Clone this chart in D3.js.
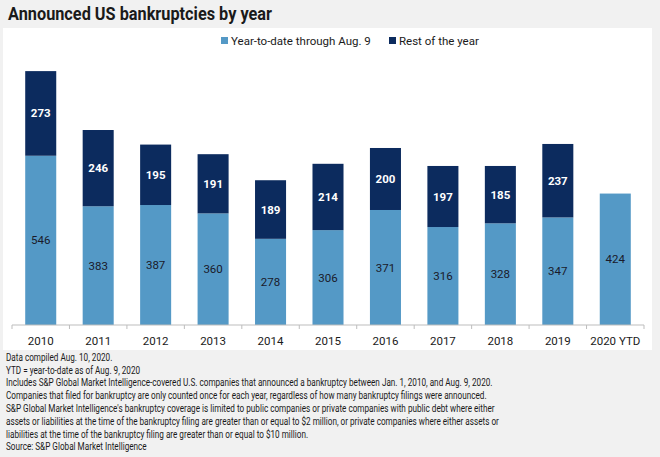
<!DOCTYPE html>
<html><head><meta charset="utf-8">
<script src="https://cdn.jsdelivr.net/npm/d3@7"></script>
<style>
body{margin:0;background:#f1f1f1;}
svg{display:block;}
</style></head>
<body>
<svg id="chart" width="660" height="457"></svg>
<script>
const categories = ["2010","2011","2012","2013","2014","2015","2016","2017","2018","2019","2020 YTD"];
const ytdValues  = [546,383,387,360,278,306,371,316,328,347,424];
const restValues = [273,246,195,191,189,214,200,197,185,237,null];
const seriesNames = ["Year-to-date through Aug. 9","Rest of the year"];
const footnotes = [
 "Data compiled Aug. 10, 2020.",
 "YTD = year-to-date as of Aug. 9, 2020",
 "Includes S&P Global Market Intelligence-covered U.S. companies that announced a bankruptcy between Jan. 1, 2010, and Aug. 9, 2020.",
 "Companies that filed for bankruptcy are only counted once for each year, regardless of how many bankruptcy filings were announced.",
 "S&P Global Market Intelligence's bankruptcy coverage is limited to public companies or private companies with public debt where either",
 "assets or liabilities at the time of the bankruptcy filing are greater than or equal to $2 million, or private companies where either assets or",
 "liabilities at the time of the bankruptcy filing are greater than or equal to $10 million.",
 "Source: S&P Global Market Intelligence"
];
const colors = ["#5499c6","#0c2b5e"];

const svg = d3.select("#chart");
svg.append("rect").attr("x",0).attr("y",0).attr("width",660).attr("height",457).attr("fill","#f1f1f1");
svg.append("rect").attr("x",3).attr("y",28).attr("width",649).attr("height",322).attr("fill","#ffffff");

svg.append("text").attr("x",8).attr("y",20).text("Announced US bankruptcies by year")
  .attr("font-family","Roboto, 'Open Sans', sans-serif").attr("font-weight","bold")
  .attr("font-size","17.5px").attr("fill","#1a1a1a")
  .attr("textLength",264).attr("lengthAdjust","spacingAndGlyphs");

const x = d3.scaleBand().domain(categories).range([12,644]).paddingInner(0.46).paddingOuter(0.23);
const y = d3.scaleLinear().domain([0,900]).range([325,46]);

const data = categories.map((c,i)=>({c, ytd:ytdValues[i], rest:restValues[i]}));
const stack = d3.stack().keys(["ytd","rest"]).value((d,k)=>d[k]||0)(data);

const g = svg.append("g");
stack.forEach((layer,li)=>{
  g.selectAll(null).data(layer.filter(d=>d[1]>d[0])).enter().append("rect")
   .attr("x",d=>x(d.data.c)).attr("width",x.bandwidth())
   .attr("y",d=>y(d[1])).attr("height",d=>y(d[0])-y(d[1]))
   .attr("fill",colors[li]);
  g.selectAll(null).data(layer.filter(d=>d[1]>d[0])).enter().append("text")
   .attr("x",d=>x(d.data.c)+x.bandwidth()/2).attr("y",d=>(y(d[0])+y(d[1]))/2)
   .attr("dy","0.35em").attr("text-anchor","middle")
   .attr("font-family","Roboto, sans-serif").attr("font-size","11.5px")
   .attr("font-weight",li===1?"bold":"normal")
   .attr("fill",li===1?"#ffffff":"#1a1a2a")
   .text(d=>d[1]-d[0]);
});

// axis
const axis = svg.append("g").attr("transform","translate(0,325)");
axis.append("line").attr("x1",12).attr("x2",644).attr("y1",0).attr("y2",0).attr("stroke","#bdbdbd").attr("stroke-width",1);
const bounds = d3.range(categories.length+1).map(i=>12+i*(632/categories.length));
axis.selectAll(null).data(bounds).enter().append("line")
  .attr("x1",d=>d).attr("x2",d=>d).attr("y1",0).attr("y2",4).attr("stroke","#bdbdbd");
axis.selectAll(null).data(categories).enter().append("text")
  .attr("x",d=>x(d)+x.bandwidth()/2).attr("y",16).attr("dy","0.35em")
  .attr("text-anchor","middle").attr("font-family","Roboto, sans-serif")
  .attr("font-size","11.5px").attr("fill","#1a1a1a").text(d=>d);

// legend
const legX = [221,389];
seriesNames.forEach((n,i)=>{
  svg.append("rect").attr("x",legX[i]).attr("y",37).attr("width",7).attr("height",7).attr("fill",colors[i]);
  svg.append("text").attr("x",legX[i]+10).attr("y",41).attr("dy","0.35em")
   .attr("font-family","Roboto, sans-serif").attr("font-size","11.5px").attr("fill","#1a1a1a").text(n);
});

// footnotes (condensed look)
const fg = svg.append("g");
const ft = fg.selectAll(null).data(footnotes).enter().append("text")
  .attr("x",0).attr("y",(d,i)=>357+i*12.8).attr("dy","0.35em")
  .attr("font-family","Roboto, sans-serif")
  .attr("font-size","10.8px").attr("fill","#1a1a1a").text(d=>d);
const w3 = ft.nodes()[2].getComputedTextLength();
const k = 487 / w3;
fg.attr("transform",`translate(6,0) scale(${k},1)`);
</script>
</body></html>
